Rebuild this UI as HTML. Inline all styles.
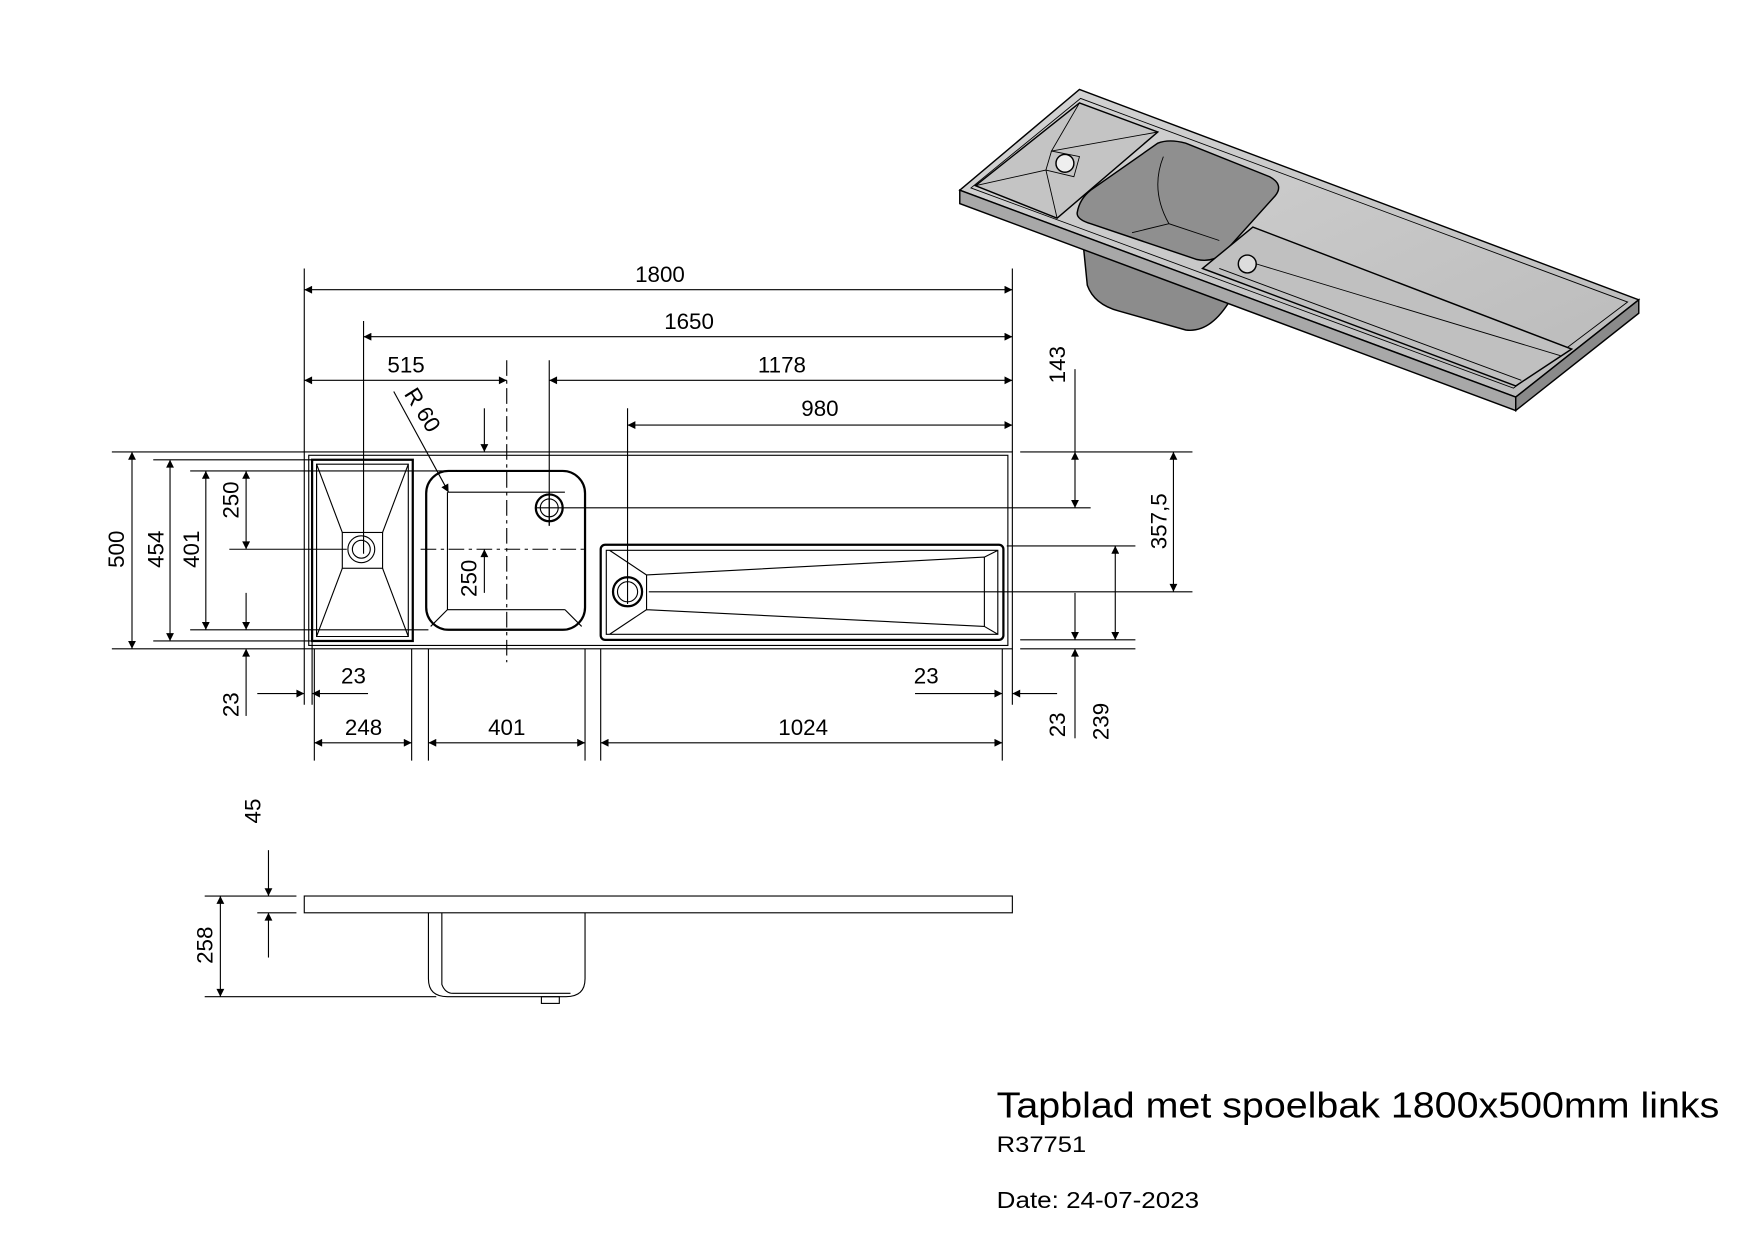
<!DOCTYPE html>
<html><head><meta charset="utf-8"><style>
html,body{margin:0;padding:0;background:#fff;}
svg{display:block;}
text{font-family:"Liberation Sans",sans-serif;fill:#000;}
</style></head><body>
<svg width="1754" height="1240" viewBox="0 0 1568 1108.5" xmlns="http://www.w3.org/2000/svg">
<defs>
<marker id="a" viewBox="0 0 10 10" refX="10" refY="5" markerWidth="17" markerHeight="7" markerUnits="userSpaceOnUse" orient="auto-start-reverse"><path d="M0,0 L10,5 L0,10 z" fill="#000"/></marker>
<linearGradient id="g1" x1="0" y1="0" x2="1" y2="1"><stop offset="0" stop-color="#d4d4d4"/><stop offset="1" stop-color="#bababa"/></linearGradient>
</defs>
<g stroke="#000" stroke-width="1" fill="none">
<!-- 3D view -->
<g stroke-width="1.3">
<path d="M968,215 L972,255 Q978,272 1000,278 L1060,295 Q1082,298 1100,268 L1100,250 z" fill="#8c8c8c"/>
<polygon points="858,170 965,80 1465,268 1355,355" fill="url(#g1)"/>
<polygon points="858,170 1355,355 1355,367 858,182" fill="#a8a8a8"/>
<polygon points="1355,355 1465,268 1465,280 1355,367" fill="#8a8a8a"/>
<polygon points="868,168 966,88 1455,270 1353,347" fill="none" stroke-width="0.8"/>
<polygon points="872,166 965,92 1035,118 945,195" fill="#c4c4c4"/>
<path d="M872,166 L935,152 L945,195 M965,92 L940,135 L1035,118 M935,152 L940,135 L965,140 L960,158 L935,152" stroke-width="0.8"/>
<circle cx="952" cy="146" r="8" fill="#eee"/>
<path d="M963,190 Q965,178 975,170 L1035,128 Q1045,124 1060,128 L1135,158 Q1148,165 1140,175 L1095,225 Q1085,235 1070,232 L975,200 Q962,196 963,190z" fill="#8f8f8f"/>
<path d="M1040,140 Q1028,170 1045,200 L1090,215 M1045,200 L1012,208" stroke-width="0.8"/>
<polygon points="1075,240 1120,203 1405,312 1355,345" fill="#c0c0c0"/>
<path d="M1120,235 L1395,318 M1090,240 L1360,340" stroke-width="0.8"/>
<circle cx="1115" cy="236" r="8" fill="#ddd"/>
</g>
<!-- plan view -->
<rect x="272" y="404" width="633" height="176"/>
<rect x="276" y="407" width="625" height="170"/>
<rect x="279" y="411" width="90" height="162" stroke-width="2"/>
<path d="M283,415 L365,415 L365,569 L283,569 z M283,415 L306,476 M365,415 L342,476 M283,569 L306,508 M365,569 L342,508"/>
<rect x="306" y="476" width="36" height="32"/>
<circle cx="323" cy="491" r="12"/><circle cx="323" cy="491" r="8"/>
<rect x="381" y="421" width="142" height="142" rx="20" stroke-width="2"/>
<path d="M400,440 L400,545 L505,545 M400,545 L385,560 M505,545 L520,560 M400,440 L505,440"/>
<circle cx="491" cy="454" r="12" stroke-width="2"/><circle cx="491" cy="454" r="8"/>
<rect x="537" y="487" width="360" height="85" rx="4" stroke-width="2"/>
<path d="M542,492 L892,492 L892,567 L542,567 z M880,498 L892,492 M880,560 L892,567 M880,498 L880,560 M578,514 L880,498 M578,545 L880,560 M578,514 L578,545 M578,514 L545,492 M578,545 L545,567"/>
<circle cx="561" cy="529" r="13" stroke-width="2"/><circle cx="561" cy="529" r="9"/>
<!-- centerlines -->
<path d="M453,322 L453,592 M376,491 L523,491" stroke-dasharray="14,4,3,4"/>
<path d="M491,440 L491,470"/>
<!-- extension lines -->
<path d="M272,240 L272,404 M905,240 L905,404 M325,287 L325,495 M491,322 L491,470 M561,365 L561,540"/>
<path d="M100,404 L272,404 M100,580 L272,580 M137,411 L279,411 M137,573 L279,573 M170,421 L400,421 M170,563 L383,563 M205,491 L310,491"/>
<path d="M281,580 L281,680 M368,580 L368,680 M383,580 L383,680 M523,580 L523,680 M537,580 L537,680 M896,580 L896,680 M272,580 L272,630 M279,573 L279,630 M905,580 L905,630"/>
<path d="M912,404 L1066,404 M480,454 L975,454 M580,529 L1066,529 M900,488 L1015,488 M912,572 L1015,572 M912,580 L1015,580"/>
<!-- dim lines -->
<path d="M272,259 L905,259" marker-start="url(#a)" marker-end="url(#a)"/>
<path d="M325,301 L905,301" marker-start="url(#a)" marker-end="url(#a)"/>
<path d="M272,340 L453,340" marker-start="url(#a)" marker-end="url(#a)"/>
<path d="M491,340 L905,340" marker-start="url(#a)" marker-end="url(#a)"/>
<path d="M561,380 L905,380" marker-start="url(#a)" marker-end="url(#a)"/>
<path d="M433,365 L433,404" marker-end="url(#a)"/>
<path d="M352,350 L401,440" marker-end="url(#a)"/>
<path d="M433,530 L433,491" marker-end="url(#a)"/>
<path d="M118,404 L118,580" marker-start="url(#a)" marker-end="url(#a)"/>
<path d="M152,411 L152,573" marker-start="url(#a)" marker-end="url(#a)"/>
<path d="M184,421 L184,563" marker-start="url(#a)" marker-end="url(#a)"/>
<path d="M220,421 L220,491" marker-start="url(#a)" marker-end="url(#a)"/>
<path d="M220,530 L220,563" marker-end="url(#a)"/>
<path d="M220,640 L220,580" marker-end="url(#a)"/>
<path d="M230,620 L272,620" marker-end="url(#a)"/>
<path d="M329,620 L279,620" marker-end="url(#a)"/>
<path d="M281,664 L368,664" marker-start="url(#a)" marker-end="url(#a)"/>
<path d="M383,664 L523,664" marker-start="url(#a)" marker-end="url(#a)"/>
<path d="M537,664 L896,664" marker-start="url(#a)" marker-end="url(#a)"/>
<path d="M818,620 L896,620" marker-end="url(#a)"/>
<path d="M945,620 L905,620" marker-end="url(#a)"/>
<path d="M961,404 L961,454" marker-start="url(#a)" marker-end="url(#a)"/>
<path d="M961,330 L961,404"/>
<path d="M1049,404 L1049,529" marker-start="url(#a)" marker-end="url(#a)"/>
<path d="M997,488 L997,572" marker-start="url(#a)" marker-end="url(#a)"/>
<path d="M961,530 L961,572" marker-end="url(#a)"/>
<path d="M961,660 L961,580" marker-end="url(#a)"/>
<!-- side view -->
<rect x="272" y="801" width="633" height="15"/>
<path d="M383,816 L383,875 Q383,891 400,891 L506,891 Q523,891 523,875 L523,816"/>
<path d="M395,816 L395,880 Q398,888 405,888 L510,888"/>
<rect x="484" y="891" width="16" height="6"/>
<path d="M183,801 L265,801 M183,891 L390,891 M230,816 L265,816"/>
<path d="M240,760 L240,801" marker-end="url(#a)"/>
<path d="M240,856 L240,816" marker-end="url(#a)"/>
<path d="M197,801 L197,891" marker-start="url(#a)" marker-end="url(#a)"/>
</g>
<g font-size="20" text-anchor="middle">
<text x="590" y="252">1800</text>
<text x="616" y="294">1650</text>
<text x="363" y="333">515</text>
<text x="699" y="333">1178</text>
<text x="733" y="372">980</text>
<text transform="translate(372,370) rotate(58)">R 60</text>
<text transform="translate(111,491) rotate(-90)">500</text>
<text transform="translate(146,491) rotate(-90)">454</text>
<text transform="translate(178,491) rotate(-90)">401</text>
<text transform="translate(213,447) rotate(-90)">250</text>
<text transform="translate(426,517) rotate(-90)">250</text>
<text transform="translate(213,630) rotate(-90)">23</text>
<text x="316" y="611">23</text>
<text x="325" y="657">248</text>
<text x="453" y="657">401</text>
<text x="718" y="657">1024</text>
<text x="828" y="611">23</text>
<text transform="translate(952,326) rotate(-90)">143</text>
<text transform="translate(1043,466) rotate(-90)">357,5</text>
<text transform="translate(952,648) rotate(-90)">23</text>
<text transform="translate(991,645) rotate(-90)">239</text>
<text transform="translate(233,725) rotate(-90)">45</text>
<text transform="translate(190,845) rotate(-90)">258</text>
</g>
<text x="891" y="999" font-size="32" textLength="646" lengthAdjust="spacingAndGlyphs">Tapblad met spoelbak 1800x500mm links</text>
<text x="891" y="1030" font-size="20" textLength="80" lengthAdjust="spacingAndGlyphs">R37751</text>
<text x="891" y="1080" font-size="21" textLength="181" lengthAdjust="spacingAndGlyphs">Date: 24-07-2023</text>
</svg>
</body></html>
